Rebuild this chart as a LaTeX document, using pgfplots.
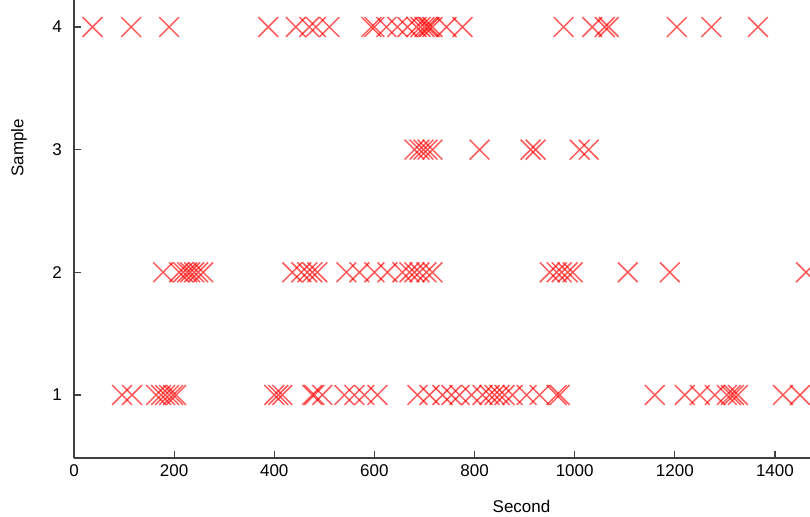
\documentclass[border=0pt]{standalone}
\usepackage{fontspec}
\setmainfont{Liberation Sans}
\usepackage{pgfplots}
\pgfplotsset{compat=1.18}
\begin{document}
\begin{tikzpicture}
\begin{axis}[
  name=ax,
  scale only axis,
  width=368pt, height=229pt,
  xmin=0, xmax=1470, ymin=0.486, ymax=4.22,
  axis lines=left,
  axis line style={black!75, line width=0.9pt, -},
  xtick={0,200,...,1400}, ytick={1,2,3,4},
  tick style={black!75, line width=0.6pt},
  tick align=inside, major tick length=3.5pt,
  font=\fontsize{8.5}{10}\selectfont,
  /pgf/number format/assume math mode=true,
  /pgf/number format/1000 sep={},
  xlabel={Second}, ylabel={Sample},
  xlabel style={at={(axis description cs:0.608,0)}, anchor=north, yshift=-17.5pt},
  ylabel style={at={(axis description cs:0,0.677)}, anchor=south, yshift=20pt},
  yticklabel style={xshift=-2.5pt},
  every tick label/.append style={black},
]
\addplot[only marks, mark=x, mark size=7pt, red, draw opacity=0.65, mark options={line width=0.75pt}] coordinates {
(37,4)(114,4)(190,4)(388,4)(443,4)(470,4)(483,4)(510,4)(594,4)(600,4)(624,4)(646,4)(666,4)(684,4)(692,4)(700,4)(706,4)(710,4)(716,4)(744,4)(776,4)(978,4)(1035,4)(1060,4)(1068,4)(1204,4)(1273,4)(1366,4)
(680,3)(690,3)(698,3)(706,3)(716,3)(810,3)(912,3)(922,3)(1010,3)(1028,3)
(178,2)(210,2)(218,2)(226,2)(232,2)(240,2)(248,2)(258,2)(436,2)(454,2)(466,2)(476,2)(486,2)(544,2)(570,2)(600,2)(626,2)(656,2)(670,2)(680,2)(690,2)(704,2)(716,2)(950,2)(964,2)(974,2)(986,2)(996,2)(1106,2)(1190,2)(1462,2)
(96,1)(116,1)(164,1)(174,1)(182,1)(190,1)(198,1)(204,1)(400,1)(408,1)(416,1)(476,1)(480,1)(496,1)(540,1)(560,1)(580,1)(606,1)(686,1)(710,1)(736,1)(754,1)(770,1)(794,1)(816,1)(830,1)(840,1)(850,1)(860,1)(876,1)(904,1)(930,1)(964,1)(970,1)(1160,1)(1220,1)(1250,1)(1280,1)(1304,1)(1312,1)(1318,1)(1326,1)(1416,1)(1450,1)
};
\end{axis}
\pgfresetboundingbox
\useasboundingbox ([xshift=-37pt,yshift=-29pt]ax.south west) rectangle (ax.north east);
\end{tikzpicture}
\end{document}
